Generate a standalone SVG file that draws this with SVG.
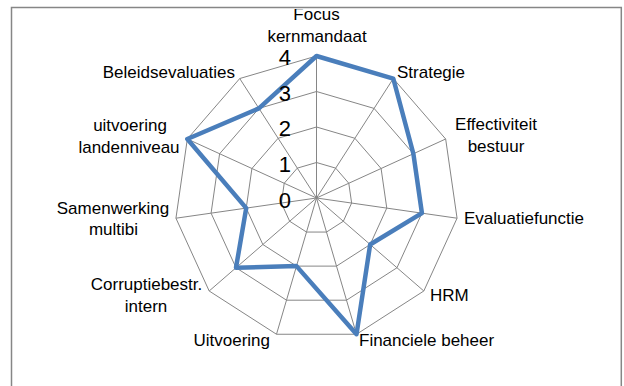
<svg xmlns="http://www.w3.org/2000/svg" width="624" height="386" viewBox="0 0 624 386">
  <style>
    .frame { fill: #ffffff; stroke: #868686; stroke-width: 1.5; }
    .grid { fill: none; stroke: #868686; stroke-width: 1; }
    .series { fill: none; stroke: #4a7ebb; stroke-width: 4.5; stroke-linejoin: round; }
    .lbl { font-family: "Liberation Sans", Arial, sans-serif; font-size: 17px; fill: #000000; }
    .tick { font-family: "Liberation Sans", Arial, sans-serif; font-size: 22px; fill: #000000; text-anchor: end; }
    .m { text-anchor: middle; }
    .s { text-anchor: start; }
    .e { text-anchor: end; }
  </style>
  <defs>
    <clipPath id="plotclip">
      <rect x="12" y="9" width="609" height="377"/>
    </clipPath>
  </defs>
  <rect class="frame" x="11.5" y="7.5" width="609.8" height="400"/>

  <g id="grid" class="grid">
    <polygon points="316.5,56 393.27,78.54 445.67,139.01 457.05,218.21 423.82,290.99 356.51,334.25 276.49,334.25 209.18,290.99 175.95,218.21 187.33,139.01 239.73,78.54"/>
    <polygon points="316.5,91.5 374.08,108.41 413.38,153.76 421.92,213.16 396.99,267.74 346.5,300.19 286.5,300.19 236.01,267.74 211.08,213.16 219.62,153.76 258.92,108.41"/>
    <polygon points="316.5,127 354.89,138.27 381.08,168.51 386.78,208.1 370.16,244.5 336.5,266.12 296.5,266.12 262.84,244.5 246.22,208.1 251.92,168.51 278.11,138.27"/>
    <polygon points="316.5,162.5 335.69,168.14 348.79,183.25 351.64,203.05 343.33,221.25 326.5,232.06 306.5,232.06 289.67,221.25 281.36,203.05 284.21,183.25 297.31,168.14"/>
    <path d="M316.5,198 L316.5,56 M316.5,198 L393.27,78.54 M316.5,198 L445.67,139.01 M316.5,198 L457.05,218.21 M316.5,198 L423.82,290.99 M316.5,198 L356.51,334.25 M316.5,198 L276.49,334.25 M316.5,198 L209.18,290.99 M316.5,198 L175.95,218.21 M316.5,198 L187.33,139.01 M316.5,198 L239.73,78.54"/>
  </g>

  <g id="connectors">
    <polygon class="series" points="316.5,56 393.27,78.54 413.38,153.76 421.92,213.16 370.16,244.5 356.51,334.25 296.5,266.12 236.01,267.74 246.22,208.1 187.33,139.01 258.92,108.41"/>
  </g>

  <g id="axis-ticks">
    <text class="tick" x="291" y="65">4</text>
    <text class="tick" x="291" y="100.5">3</text>
    <text class="tick" x="291" y="136">2</text>
    <text class="tick" x="291" y="171.5">1</text>
    <text class="tick" x="291" y="207.5">0</text>
  </g>

  <g id="labels" clip-path="url(#plotclip)">
    <g id="node-focus"><text class="lbl m" x="316.5" y="19.5">Focus</text><text class="lbl m" x="317" y="41.5">kernmandaat</text></g>
    <g id="node-strategie"><text class="lbl s" x="397" y="78">Strategie</text></g>
    <g id="node-effectiviteit"><text class="lbl m" x="496" y="130">Effectiviteit</text><text class="lbl m" x="496" y="152">bestuur</text></g>
    <g id="node-evaluatiefunctie"><text class="lbl s" x="464" y="224">Evaluatiefunctie</text></g>
    <g id="node-hrm"><text class="lbl s" x="430" y="301">HRM</text></g>
    <g id="node-financiele"><text class="lbl s" x="359" y="346">Financiele beheer</text></g>
    <g id="node-uitvoering"><text class="lbl e" x="270" y="346">Uitvoering</text></g>
    <g id="node-corruptie"><text class="lbl m" x="146.5" y="290">Corruptiebestr.</text><text class="lbl m" x="146" y="311.5">intern</text></g>
    <g id="node-samenwerking"><text class="lbl m" x="113" y="213.5">Samenwerking</text><text class="lbl m" x="113.5" y="235">multibi</text></g>
    <g id="node-landenniveau"><text class="lbl m" x="130" y="131">uitvoering</text><text class="lbl m" x="129" y="152.5">landenniveau</text></g>
    <g id="node-beleidsevaluaties"><text class="lbl e" x="235" y="78">Beleidsevaluaties</text></g>
  </g>
</svg>
